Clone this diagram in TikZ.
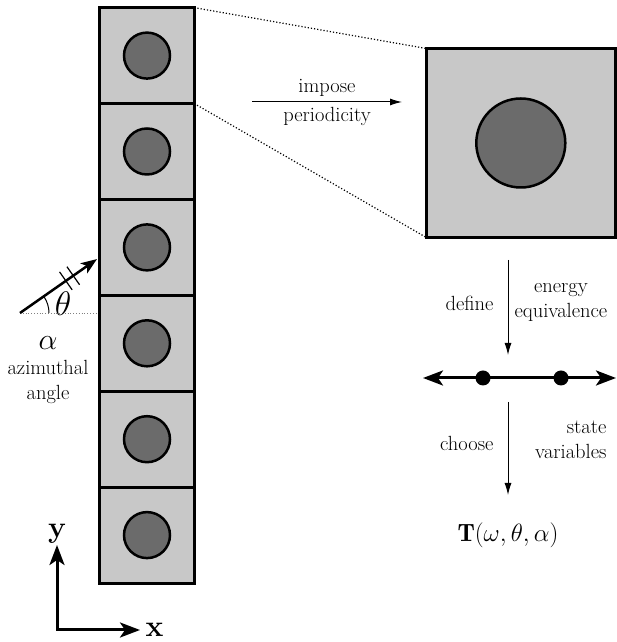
\RequirePackage{fix-cm}
\documentclass[tikz,border=0pt]{standalone}
\usepackage{fontspec}
\usetikzlibrary{positioning, arrows.meta, calc}
\definecolor{cellbg}{HTML}{C8C8C8}
\definecolor{fibre}{HTML}{6B6B6B}

\begin{document}
\begin{tikzpicture}[
    x=1pt, y=1pt,
    font=\fontsize{20.5}{25}\selectfont,
    cell/.style={
        rectangle, draw=black, fill=cellbg, line width=3pt,
        minimum width=#1, minimum height=#1, inner sep=0pt, outer sep=0pt
    },
    fiber/.style={
        circle, draw=black, fill=fibre, line width=2.5pt,
        minimum size=#1, inner sep=0pt
    },
    dot/.style={circle, fill=black, minimum size=15pt, inner sep=0pt},
    arr/.style={-{Latex[length=12pt, width=7pt]}, line width=1pt},
    fat/.style={{Stealth[length=20pt, width=15pt, inset=5pt]}-{Stealth[length=20pt, width=15pt, inset=5pt]},
        line width=3pt},
    lbl/.style={inner sep=5pt, midway, align=center},
    guide/.style={dotted, line width=1.2pt},
]
\useasboundingbox (0,0) rectangle (617,642);

% ---------------------------------------------------------------- cell column
\node (cell1) [cell=95.9pt, minimum width=94.5pt] at (147,586.4) {};
\node (cell2) [cell=95.9pt, minimum width=94.5pt, below=0pt of cell1] {};
\node (cell3) [cell=95.9pt, minimum width=94.5pt, below=0pt of cell2] {};
\node (cell4) [cell=95.9pt, minimum width=94.5pt, below=0pt of cell3] {};
\node (cell5) [cell=95.9pt, minimum width=94.5pt, below=0pt of cell4] {};
\node (cell6) [cell=95.9pt, minimum width=94.5pt, below=0pt of cell5] {};

\node (fib1) [fiber=46pt] at (cell1) {};
\node (fib2) [fiber=46pt] at (cell2) {};
\node (fib3) [fiber=46pt] at (cell3) {};
\node (fib4) [fiber=46pt] at (cell4) {};
\node (fib5) [fiber=46pt] at (cell5) {};
\node (fib6) [fiber=46pt] at (cell6) {};

% ---------------------------------------------------------------- unit cell
\node (unit)    [cell=189pt] at (520.8,499) {};
\node (unitfib) [fiber=89pt] at (unit) {};

\draw [guide] (cell1.north east) -- (unit.north west);
\draw [guide] (cell1.south east) -- (unit.south west);

\coordinate (imp-s) at (252,540);
\coordinate (imp-e) at (402,540);
\draw [arr] (imp-s) -- node[lbl, above] {impose} node[lbl, below] {periodicity} (imp-e);

% ---------------------------------------------------------------- right column
\coordinate (def-s) at (508,382);
\coordinate (def-e) at (508,287);
\draw [arr] (def-s) -- (def-e);
\node (define) [anchor=east] at (497,339) {define};
\node (energy) [anchor=west, align=center] at (511,340) {energy\\equivalence};

\coordinate (line-l) at (423,264);
\coordinate (line-r) at (616,264);
\draw [fat] (line-l) -- (line-r);
\node (pt1) [dot] at (483,264) {};
\node (pt2) [dot] at (561,264) {};

\coordinate (cho-s) at (508,240);
\coordinate (cho-e) at (508,147);
\draw [arr] (cho-s) -- (cho-e);
\node (choose) [anchor=east] at (497,199) {choose};
\node (statevar) [anchor=east, align=right] at (610,202) {state\\variables};

\node (tmat) at (508,107) {\fontsize{25}{30}\selectfont$\mathbf{T}(\omega,\theta,\alpha)$};

% ---------------------------------------------------------------- incidence angle
\coordinate (orig) at (20,329);
\coordinate (tip)  at ($(orig)+(35:94)$);
\coordinate (hor)  at (98,329);
\draw [guide, line width=0.8pt, gray] (orig) -- (hor);
\draw [-{Stealth[length=16pt, width=12pt, inset=4pt]}, line width=2.5pt] (orig) -- (tip);
\begin{scope}[shift={(orig)}, rotate=35]
    \draw [line width=1.2pt] (56,-11) -- (56,11);
    \draw [line width=1.2pt] (65,-11) -- (65,11);
\end{scope}
\draw [line width=1pt] ($(orig)+(29,0)$) arc[start angle=0, end angle=35, radius=29];
\node (theta) at (63,338) {\fontsize{34}{34}\selectfont$\theta$};
\node (azim) [align=center] at (48,272) {\fontsize{30}{24}\selectfont$\alpha$\\azimuthal\\angle};

% ---------------------------------------------------------------- axes
\coordinate (ax-o) at (57,12);
\coordinate (ax-y) at (57,97);
\coordinate (ax-x) at (140,12);
\draw [fat] (ax-y) -- (ax-o) -- (ax-x);
\node (ylab) [above=-2pt of ax-y, font=\fontsize{30}{30}\selectfont\bfseries] {y};
\node (xlab) [right=2pt of ax-x, font=\fontsize{30}{30}\selectfont\bfseries] {x};

\end{tikzpicture}
\end{document}
